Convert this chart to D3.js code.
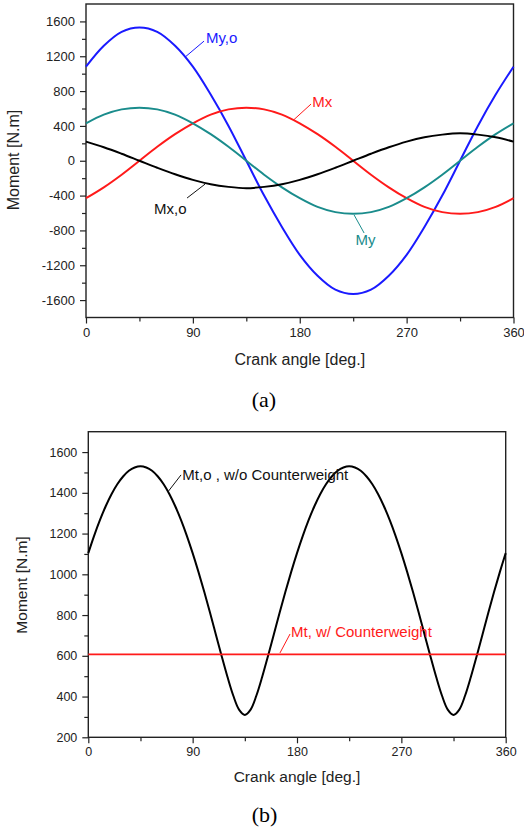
<!DOCTYPE html>
<html>
<head>
<meta charset="utf-8">
<script src="https://cdn.jsdelivr.net/npm/d3@7"></script>
<style>
  html, body { margin: 0; padding: 0; background: #fff; }
  svg { display: block; }
  text { font-family: "Liberation Sans", Arial, sans-serif; }
</style>
</head>
<body>
<svg id="chart" width="524" height="830"></svg>
<script>
// ---------- DATA ----------
const angles15 = [0,15,30,45,60,75,90,105,120,135,150,165,180,195,210,225,240,255,270,285,300,315,330,345,360];
const Myo = [1080,1320,1480,1530,1480,1320,1080,760,400,0,-400,-760,-1080,-1320,-1480,-1530,-1480,-1320,-1080,-760,-400,0,400,760,1080];
const Mx  = [-430,-305,-160,0,160,305,430,530,590,610,590,530,430,305,160,0,-160,-305,-430,-530,-590,-610,-590,-530,-430];
const My  = [430,530,590,610,590,530,430,305,160,0,-160,-305,-430,-530,-590,-610,-590,-530,-430,-305,-160,0,160,305,430];
const Mxo = [220,155,80,0,-80,-155,-220,-270,-300,-315,-300,-270,-220,-155,-80,0,80,155,220,270,300,315,300,270,220];

const angles5 = [0,5,10,15,20,25,30,35,40,45,50,55,60,65,70,75,80,85,90,95,100,105,110,115,120,125,130,135,140,145,150,155,160,165,170,175,
                 180,185,190,195,200,205,210,215,220,225,230,235,240,245,250,255,260,265,270,275,280,285,290,295,300,305,310,315,320,325,330,335,340,345,350,355,360];
const Mto = [1104,1189,1266,1334,1393,1442,1480,1508,1524,1530,1524,1508,1480,1442,1393,1334,1266,1189,1104,1012,914,811,705,599,497,405,336,310,336,405,497,599,705,811,914,1012,
             1104,1189,1266,1334,1393,1442,1480,1508,1524,1530,1524,1508,1480,1442,1393,1334,1266,1189,1104,1012,914,811,705,599,497,405,336,310,336,405,497,599,705,811,914,1012,1104];
const anglesFlat = [0,360];
const MtCW = [607,607];

const xTicks = [0,90,180,270,360];
const xMinor = [45,135,225,315];
const yTicksTop = [-1600,-1200,-800,-400,0,400,800,1200,1600];
const yMinorTop = [-1800,-1400,-1000,-600,-200,200,600,1000,1400,1800];
const yTicksBot = [200,400,600,800,1000,1200,1400,1600];
const yMinorBot = [300,500,700,900,1100,1300,1500,1700];

// ---------- DRAW ----------
const svg = d3.select("#chart");
const axisColor = "#222";

function panel(cfg) {
  const g = svg.append("g");
  const x = d3.scaleLinear().domain([0,360]).range([cfg.left, cfg.right]);
  const y = d3.scaleLinear().domain(cfg.yDomain).range([cfg.bottom, cfg.top]);

  // minor ticks
  g.append("g").attr("transform", `translate(0,${cfg.bottom})`)
    .call(d3.axisBottom(x).tickValues(xMinor).tickSize(4).tickFormat(""))
    .call(s => s.select(".domain").remove());
  g.append("g").attr("transform", `translate(${cfg.left},0)`)
    .call(d3.axisLeft(y).tickValues(cfg.yMinor.filter(v => v > cfg.yDomain[0] && v < cfg.yDomain[1])).tickSize(4).tickFormat(""))
    .call(s => s.select(".domain").remove());

  // major ticks
  const xa = g.append("g").attr("transform", `translate(0,${cfg.bottom})`)
    .call(d3.axisBottom(x).tickValues(xTicks).tickSize(6).tickPadding(4).tickFormat(d3.format("d")));
  xa.select(".domain").remove();
  const ya = g.append("g").attr("transform", `translate(${cfg.left},0)`)
    .call(d3.axisLeft(y).tickValues(cfg.yTicks).tickSize(6).tickPadding(5).tickFormat(d => String(d).replace("\u2212","-")));
  ya.select(".domain").remove();

  g.selectAll(".tick line").attr("stroke", axisColor).attr("stroke-width", 1.2);
  g.selectAll(".tick text").attr("fill", "#222").style("font-size", cfg.tickFont + "px")
    .style("font-family", '"Liberation Sans", Arial, sans-serif');

  // frame
  g.append("rect").attr("x", cfg.left).attr("y", cfg.top)
    .attr("width", cfg.right - cfg.left).attr("height", cfg.bottom - cfg.top)
    .attr("fill", "none").attr("stroke", axisColor).attr("stroke-width", 1.4);

  // series
  cfg.series.forEach(s => {
    const line = d3.line().x((d,i) => x(s.xs[i])).y(d => y(d)).curve(d3.curveCatmullRom);
    g.append("path").datum(s.ys).attr("d", line)
      .attr("fill", "none").attr("stroke", s.color).attr("stroke-width", s.width);
  });

  // labels with leaders
  cfg.labels.forEach(l => {
    g.append("line")
      .attr("x1", x(l.leader[0])).attr("y1", y(l.leader[1]))
      .attr("x2", x(l.leader[2])).attr("y2", y(l.leader[3]))
      .attr("stroke", l.color).attr("stroke-width", 1);
    g.append("text").attr("x", x(l.at[0])).attr("y", y(l.at[1]))
      .attr("dy", "0.35em").attr("fill", l.color)
      .style("font-size", cfg.labelFont + "px").text(l.text);
  });

  // axis titles
  g.append("text").attr("x", (cfg.left + cfg.right) / 2).attr("y", cfg.xTitleY)
    .attr("text-anchor", "middle").attr("dy", "0.35em").attr("fill", "#222")
    .style("font-size", cfg.titleFont + "px").text("Crank angle [deg.]");
  g.append("text").attr("transform", `translate(${cfg.yTitleX},${cfg.yTitleY}) rotate(-90)`)
    .attr("text-anchor", "middle").attr("dy", "0.35em").attr("fill", "#222")
    .style("font-size", cfg.titleFont + "px").text("Moment [N.m]");

  // caption
  g.append("text").attr("x", cfg.capX).attr("y", cfg.capY)
    .attr("text-anchor", "middle").attr("fill", "#000")
    .style("font-family", '"Liberation Serif", "Times New Roman", serif')
    .style("font-size", "22px").text(cfg.caption);
}

panel({
  left: 86, right: 513.5, top: 4, bottom: 317.5,
  yDomain: [-1800, 1800], yTicks: yTicksTop, yMinor: yMinorTop,
  tickFont: 13, labelFont: 15, titleFont: 16,
  xTitleY: 359, yTitleX: 13.5, yTitleY: 160,
  capX: 264, capY: 407, caption: "(a)",
  series: [
    { xs: angles15, ys: Myo, color: "#1a1aff", width: 2 },
    { xs: angles15, ys: Mx,  color: "#ff1a1a", width: 2 },
    { xs: angles15, ys: My,  color: "#1a8c8c", width: 2 },
    { xs: angles15, ys: Mxo, color: "#000000", width: 2 }
  ],
  labels: [
    { text: "My,o", color: "#1a1aff", at: [101, 1409], leader: [83.4, 1190, 99.4, 1374] },
    { text: "Mx",   color: "#ff1a1a", at: [190.6, 677], leader: [174.7, 467, 189.5, 651] },
    { text: "Mx,o", color: "#111111", at: [57.3, -555], leader: [85.1, -428, 100.3, -268] },
    { text: "My",   color: "#1a8c8c", at: [227, -910], leader: [225.8, -623, 234.2, -830] }
  ]
});

panel({
  left: 88.3, right: 505.7, top: 431.7, bottom: 737.3,
  yDomain: [200, 1700], yTicks: yTicksBot, yMinor: yMinorBot,
  tickFont: 12.5, labelFont: 15, titleFont: 15.5,
  xTitleY: 777, yTitleX: 21.5, yTitleY: 585,
  capX: 264.5, capY: 822, caption: "(b)",
  series: [
    { xs: angles5, ys: Mto, color: "#000000", width: 2 },
    { xs: anglesFlat, ys: MtCW, color: "#ff1a1a", width: 1.6 }
  ],
  labels: [
    { text: "Mt,o , w/o Counterweight", color: "#111111", at: [81.1, 1488], leader: [68.7, 1405, 80, 1488] },
    { text: "Mt, w/ Counterweight", color: "#ff1a1a", at: [174.8, 719], leader: [165.3, 614, 174, 707] }
  ]
});
</script>
</body>
</html>
